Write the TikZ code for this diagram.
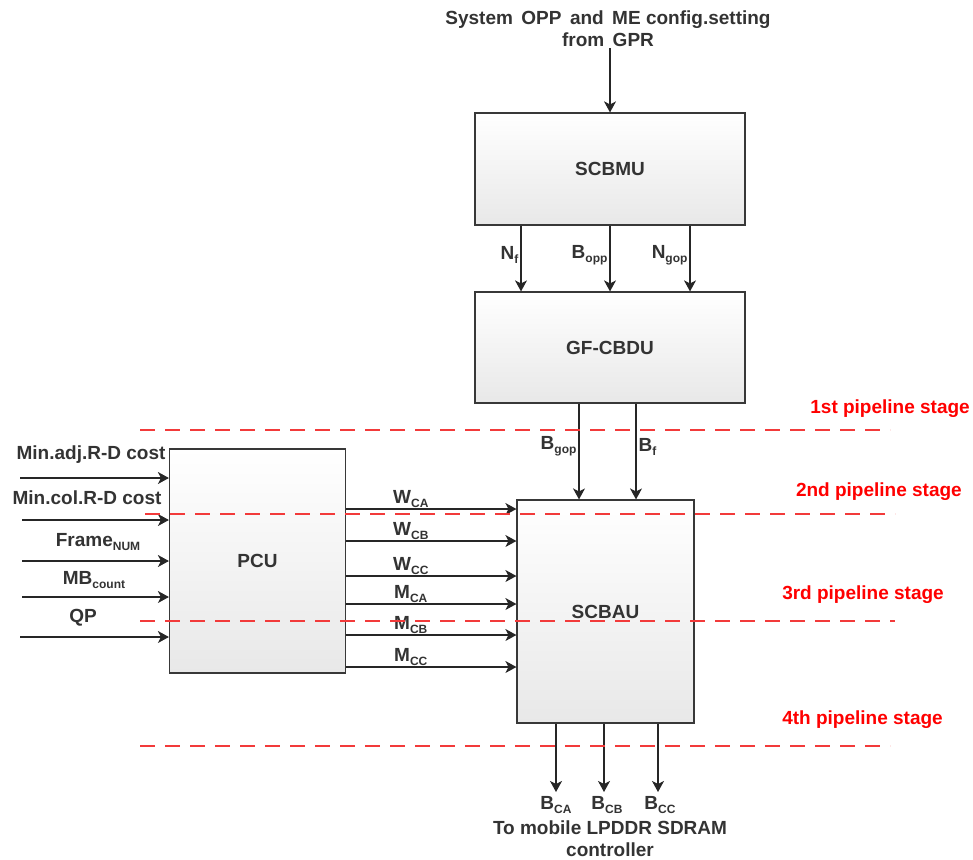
\documentclass[tikz,border=0pt]{standalone}
\usepackage{fontspec}
\setmainfont{Liberation Sans}
\usepackage{tikz}
\usetikzlibrary{arrows.meta,positioning,calc}
\definecolor{txtgray}{HTML}{333333}
\definecolor{stagered}{HTML}{FF0000}
\definecolor{dashred}{HTML}{F23A3A}
\newcommand{\sbs}[1]{\raisebox{-0.4ex}{\fontsize{12}{13}\selectfont #1}}
\newcommand{\bigtxt}{\fontsize{19}{22}\selectfont\bfseries}
\tikzset{
  blk/.style      = {draw=black!78, line width=1.2pt, top color=white, bottom color=black!9,
                     font=\bigtxt, text=txtgray, inner sep=0pt},
  ar/.style       = {-{Stealth[length=11pt,width=12pt,inset=3pt]}, line width=1.1pt, draw=black!85},
  lbl/.style      = {font=\bigtxt, text=txtgray, inner sep=2pt},
  stage/.style    = {draw=dashred, line width=1.2pt, dash pattern=on 15pt off 10pt},
  stagelbl/.style = {font=\bigtxt, text=stagered, inner sep=0pt},
}

\begin{document}
\begin{tikzpicture}[x=1pt, y=-1pt]
  \useasboundingbox (0,0) rectangle (973,859);
  % blocks
  \node[blk, minimum width=270pt, minimum height=112pt] (scbmu) at (610,169) {SCBMU};
  \node[blk, minimum width=270pt, minimum height=111pt] (gfcbdu) at (610,347.5) {GF-CBDU};
  \node[blk, minimum width=176pt, minimum height=224pt] (pcu) at (257.5,561) {PCU};
  \node[blk, minimum width=177pt, minimum height=223pt] (scbau) at (605.5,611.5) {SCBAU};

  % input from GPR
  \node[lbl, align=center, inner sep=1pt] (gpr) at (608,29)
     {System\, OPP\, and\, ME config.setting\\from\, GPR};
  \draw[ar] (gpr.south -| scbmu.north) -- (scbmu.north);

  % SCBMU -> GF-CBDU
  \draw[ar] (scbmu.south -| 521,0) -- node[lbl, left, pos=0.45]{N\sbs{f}} (gfcbdu.north -| 521,0);
  \draw[ar] (scbmu.south -| 610,0) -- node[lbl, left, pos=0.45]{B\sbs{opp}} (gfcbdu.north -| 610,0);
  \draw[ar] (scbmu.south -| 690,0) -- node[lbl, left, pos=0.45]{N\sbs{gop}} (gfcbdu.north -| 690,0);

  % GF-CBDU -> SCBAU
  \draw[ar] (gfcbdu.south -| 579,0) -- node[lbl, left, pos=0.45]{B\sbs{gop}} (scbau.north -| 579,0);
  \draw[ar] (gfcbdu.south -| 636,0) -- node[lbl, right, pos=0.45]{B\sbs{f}} (scbau.north -| 636,0);

  % PCU inputs
  \coordinate (in1) at (20,478);
  \coordinate (in2) at (22,520);
  \coordinate (in3) at (22,561);
  \coordinate (in4) at (22,597);
  \coordinate (in5) at (20,637);
  \node[lbl] (adj) at (91,455) {Min.adj.R-D cost};
  \node[lbl] (col) at (87,498) {Min.col.R-D cost};
  \node[lbl] (frm) at (98,542) {Frame\sbs{NUM}};
  \node[lbl] (mbc) at (94,580) {MB\sbs{count}};
  \node[lbl] (qp)  at (83,618) {QP};
  \foreach \i in {1,...,5}
    \draw[ar] (in\i) -- (in\i -| pcu.west);

  % PCU -> SCBAU
  \foreach \yy/\txt in {509/W\sbs{CA}, 541/W\sbs{CB}, 576/W\sbs{CC},
                        604/M\sbs{CA}, 635/M\sbs{CB}, 667/M\sbs{CC}}
    \draw[ar] (pcu.east |- 0,\yy) -- node[lbl, above, pos=0.38, yshift=-1pt]{\txt} (scbau.west |- 0,\yy);

  % SCBAU outputs
  \node[lbl, inner sep=0pt] (bca) at (556,805) {B\sbs{CA}};
  \node[lbl, inner sep=0pt] (bcb) at (607,805) {B\sbs{CB}};
  \node[lbl, inner sep=0pt] (bcc) at (660,805) {B\sbs{CC}};
  \draw[ar] (scbau.south -| 556,0) -- (556,792);
  \draw[ar] (scbau.south -| 604,0) -- (604,792);
  \draw[ar] (scbau.south -| 658,0) -- (658,792);
  \node[lbl, align=center, inner sep=0pt] (lpddr) at (610,839)
     {To mobile LPDDR SDRAM\\controller};

  % pipeline stages
  \draw[stage] (140,430) -- (890,430);
  \draw[stage] (145,514) -- (895,514);
  \draw[stage] (140,621) -- (895,621);
  \draw[stage] (140,746) -- (890,746);
  \node[stagelbl, anchor=east] (st1) at (970,409) {1st pipeline stage};
  \node[stagelbl, anchor=east] (st2) at (962,492) {2nd pipeline stage};
  \node[stagelbl, anchor=east] (st3) at (944,595) {3rd pipeline stage};
  \node[stagelbl, anchor=east] (st4) at (943,720) {4th pipeline stage};
\end{tikzpicture}
\end{document}
